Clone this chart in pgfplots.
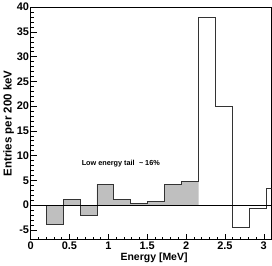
\documentclass[border=0pt]{standalone}
\usepackage{pgfplots}
\pgfplotsset{compat=1.18}
\usepackage{fontspec}
\setmainfont{Liberation Sans}
\begin{document}
\begin{tikzpicture}
\begin{axis}[
  scale only axis,
  width=241.5pt, height=233pt,
  xmin=0, xmax=3.1, ymin=-7, ymax=40,
  axis line style={line width=0.9pt},
  xtick={0,0.5,1,1.5,2,2.5,3},
  ytick={-5,0,5,10,15,20,25,30,35,40},
  minor x tick num=4,
  minor y tick num=4,
  tick align=inside,
  xtick pos=bottom, ytick pos=left,
  major tick length=6pt, minor tick length=3pt,
  tick style={line width=0.5pt, black},
  /pgf/number format/assume math mode=true,
  ticklabel style={font=\fontsize{11}{12}\selectfont\bfseries},
  xticklabel style={yshift=1pt},
  yticklabel style={xshift=2pt},
  xlabel={Energy [MeV]},
  ylabel={Entries per 200 keV},
  xlabel style={font=\fontsize{10.5}{11}\selectfont\bfseries, yshift=4pt, xshift=3pt},
  ylabel style={font=\fontsize{11.5}{12}\selectfont\bfseries, yshift=-4pt},
  clip=true,
]
% shaded low-energy tail
\addplot[ybar interval, fill=black!25, draw=none] coordinates {
  (0.200,-3.9) (0.418,1.1) (0.636,-2.15) (0.854,4.2) (1.072,1.15)
  (1.290,0.28) (1.508,0.75) (1.726,4.1) (1.944,4.8) (2.162,4.8)
};
% histogram outline
\addplot[const plot, draw=black!80, line width=0.9pt] coordinates {
  (0.200,0) (0.200,-3.9) (0.418,1.1) (0.636,-2.15) (0.854,4.2) (1.072,1.15)
  (1.290,0.28) (1.508,0.75) (1.726,4.1) (1.944,4.8) (2.162,38.0)
  (2.380,20.0) (2.598,-4.6) (2.816,-0.67) (3.034,3.4) (3.2,3.4)
};
% zero line
\addplot[black, line width=1pt] coordinates {(0,0) (3.1,0)};
\node[font=\fontsize{7.3}{8}\selectfont\bfseries] at (axis cs:1.16,8.3) {Low energy tail\hspace{0.6em}\textasciitilde\hspace{0.25em}16\%};
\end{axis}
\end{tikzpicture}
\end{document}
